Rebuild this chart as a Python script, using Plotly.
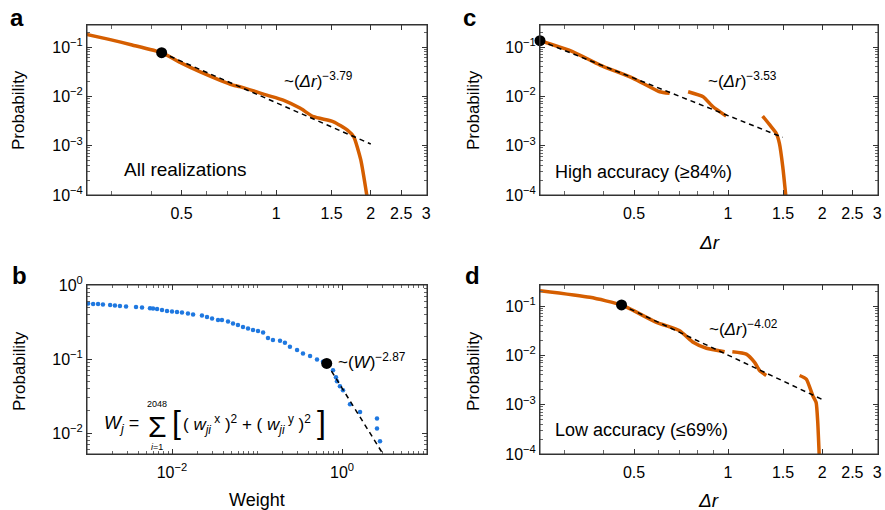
import math
import plotly.graph_objects as go

W, H = 885, 510
FONT = "Liberation Sans, Arial, sans-serif"
ORANGE = "#D55E00"
BLUE = "#1F78E0"
FRAME = "#333333"

# ---------------- data ----------------
# Panel a: all realizations
a_x = [0.248, 0.294, 0.348, 0.432, 0.5, 0.571, 0.728, 0.766, 0.934, 1.053, 1.194, 1.314, 1.523, 1.685, 1.766, 1.859, 1.953]
a_y = [0.181, 0.143, 0.110, 0.0766, 0.047, 0.0316, 0.0169, 0.0157, 0.0106, 0.0084, 0.00571, 0.00386, 0.00305, 0.00207, 0.00151, 0.000513, 0.00008]
a_fit_x = [0.432, 2.0]
a_fit_y = [0.0766, 0.00108]
a_dot = (0.432, 0.0766)

# Panel b: weight distribution
b_x = [0.00103, 0.00118, 0.00135, 0.00154, 0.00187, 0.00213, 0.00244, 0.00288, 0.00377, 0.00444,
       0.00551, 0.00598, 0.00667, 0.00763, 0.00873, 0.0100, 0.01145, 0.0131, 0.0154, 0.0177,
       0.0225, 0.0258, 0.0296, 0.0348, 0.0387, 0.0456, 0.0522, 0.0597, 0.0684, 0.0784,
       0.0897, 0.1028, 0.118, 0.1346, 0.154, 0.1866, 0.213, 0.244, 0.296, 0.3475,
       0.421, 0.508, 0.597, 0.784, 0.849, 0.873, 0.946, 1.028, 1.242, 1.63,
       2.58, 2.58, 2.80]
b_y = [0.562, 0.554, 0.554, 0.545, 0.537, 0.528, 0.520, 0.512, 0.505, 0.497,
       0.484, 0.481, 0.474, 0.459, 0.445, 0.438, 0.431, 0.425, 0.412, 0.399,
       0.387, 0.370, 0.353, 0.336, 0.336, 0.321, 0.302, 0.288, 0.271, 0.258,
       0.247, 0.239, 0.228, 0.192, 0.181, 0.177, 0.166, 0.1467, 0.1324, 0.1194,
       0.110, 0.0991, 0.092, 0.071, 0.0571, 0.0504, 0.0432, 0.0381, 0.0247, 0.0194,
       0.0158, 0.0116, 0.0078]
b_fit_x = [0.661, 2.93]
b_fit_y = [0.0875, 0.0056]
b_dot = (0.661, 0.0875)

# Panel c: high accuracy
c_x = [0.25, 0.319, 0.389, 0.497, 0.604, 0.65, None, 0.745, 0.832, 0.895, 0.986, None,
       1.29, 1.36, 1.426, 1.46, 1.497, 1.535]
c_y = [0.134, 0.080, 0.0431, 0.0232, 0.0124, 0.0115, None, 0.0124, 0.0098, 0.00615, 0.00398, None,
       0.00398, 0.00263, 0.00178, 0.00111, 0.00037, 0.00008]
c_fit_x = [0.25, 1.497]
c_fit_y = [0.134, 0.00147]
c_dot = (0.25, 0.134)

# Panel d: low accuracy
d_x = [0.25, 0.361, 0.456, 0.590, 0.70, 0.773, 0.853, 0.975, None,
       1.032, 1.144, 1.216, 1.262, 1.325, None,
       1.694, 1.78, 1.868, 1.914, 1.937, 1.96]
d_y = [0.204, 0.150, 0.105, 0.0467, 0.0316, 0.0184, 0.0139, 0.0118, None,
       0.0118, 0.0106, 0.0072, 0.0049, 0.0039, None,
       0.0039, 0.0033, 0.00151, 0.00111, 0.00044, 0.00008]
d_fit_x = [0.456, 2.01]
d_fit_y = [0.105, 0.00126]
d_dot = (0.456, 0.105)

# ticks
dr_tickvals = [0.5, 1, 1.5, 2, 2.5, 3]
dr_ticktext = ["0.5", "1", "1.5", "2", "2.5", "3"]
dr_minorvals = [0.3, 0.4, 0.6, 0.7, 0.8, 0.9]
prob_tickvals = [1e-4, 1e-3, 1e-2, 1e-1]
prob_ticktext = ["10<sup>−4</sup>", "10<sup>−3</sup>", "10<sup>−2</sup>", "10<sup>−1</sup>"]
b_ytickvals = [1e-2, 1e-1, 1]
b_yticktext = ["10<sup>−2</sup>", "10<sup>−1</sup>", "10<sup>0</sup>"]
b_xtickvals = [1e-2, 1]
b_xticktext = ["10<sup>−2</sup>", "10<sup>0</sup>"]

# ---------------- layout helpers ----------------
def px(x):
    return x / W

def py(y):
    return 1 - y / H

fig = go.Figure()

def add_panel(n, xs, ys, fx, fy, dot, mode="line"):
    xa = "x" if n == 1 else f"x{n}"
    ya = "y" if n == 1 else f"y{n}"
    if mode == "line":
        fig.add_trace(go.Scatter(x=xs, y=ys, mode="lines", line=dict(color=ORANGE, width=3.5, shape="spline", smoothing=0.5),
                                 xaxis=xa, yaxis=ya, showlegend=False, connectgaps=False))
    else:
        fig.add_trace(go.Scatter(x=xs, y=ys, mode="markers", marker=dict(color=BLUE, size=4.5),
                                 xaxis=xa, yaxis=ya, showlegend=False))
    fig.add_trace(go.Scatter(x=fx, y=fy, mode="lines", line=dict(color="black", width=1.5, dash="5px,4px"),
                             xaxis=xa, yaxis=ya, showlegend=False))
    fig.add_trace(go.Scatter(x=[dot[0]], y=[dot[1]], mode="markers", marker=dict(color="black", size=11),
                             xaxis=xa, yaxis=ya, showlegend=False, cliponaxis=False))

add_panel(1, a_x, a_y, a_fit_x, a_fit_y, a_dot)
add_panel(2, b_x, b_y, b_fit_x, b_fit_y, b_dot, mode="markers")
add_panel(3, c_x, c_y, c_fit_x, c_fit_y, c_dot)
add_panel(4, d_x, d_y, d_fit_x, d_fit_y, d_dot)

axis_common = dict(type="log", showline=True, linecolor=FRAME, linewidth=1, mirror="allticks",
                   ticks="inside", ticklen=5, tickcolor=FRAME, showgrid=False, zeroline=False,
                   automargin=False, tickfont=dict(size=16, color="black", family=FONT))
minor_common = dict(ticks="inside", ticklen=3, tickcolor="#666", dtick="D1", showgrid=False)

dr_range = [math.log10(0.25), math.log10(3.02)]
xdom_l = [px(87), px(427)]
xdom_r = [px(540), px(878)]
ydom_t = [py(195), py(25)]
ydom_b = [py(454), py(285)]

def dr_xaxis(dom, anchor):
    return dict(axis_common, domain=dom, anchor=anchor, range=dr_range, tickmode="array",
                tickvals=dr_tickvals, ticktext=dr_ticktext, ticklabelstandoff=4,
                minor=dict(ticks="inside", ticklen=4, tickcolor="#666", tickmode="array",
                           tickvals=dr_minorvals, showgrid=False))

def prob_yaxis(dom, anchor, rng):
    return dict(axis_common, domain=dom, anchor=anchor, range=rng, tickmode="array",
                tickvals=prob_tickvals, ticktext=prob_ticktext, minor=minor_common)

fig.update_layout(
    template="none",
    width=W, height=H, margin=dict(l=0, r=0, t=0, b=0, autoexpand=False),
    paper_bgcolor="white", plot_bgcolor="white",
    font=dict(family=FONT, color="black"),
    xaxis=dr_xaxis(xdom_l, "y"),
    yaxis=prob_yaxis(ydom_t, "x", [-4, -0.554]),
    xaxis3=dr_xaxis(xdom_r, "y3"),
    yaxis3=prob_yaxis(ydom_t, "x3", [-4, -0.554]),
    xaxis4=dr_xaxis(xdom_r, "y4"),
    yaxis4=prob_yaxis(ydom_b, "x4", [-4, -0.574]),
    xaxis2=dict(axis_common, domain=xdom_l, anchor="y2", range=[-3, 1], tickmode="array",
                tickvals=b_xtickvals, ticktext=b_xticktext, minor=minor_common, ticklabelstandoff=4),
    yaxis2=dict(axis_common, domain=ydom_b, anchor="x2", range=[-2.28, 0], tickmode="array",
                tickvals=b_ytickvals, ticktext=b_yticktext, minor=minor_common),
)

# panel frames
for xd, yd in [(xdom_l, ydom_t), (xdom_r, ydom_t), (xdom_l, ydom_b), (xdom_r, ydom_b)]:
    fig.add_shape(type="rect", xref="paper", yref="paper", x0=xd[0], x1=xd[1], y0=yd[0], y1=yd[1],
                  line=dict(color=FRAME, width=1), fillcolor="rgba(0,0,0,0)", layer="above")

ann = []
def text(X, Y, s, size=16, xanchor="center", yanchor="middle", angle=0, bold=False):
    if bold:
        s = f"<b>{s}</b>"
    ann.append(dict(x=px(X), y=py(Y), xref="paper", yref="paper", text=s, showarrow=False,
                    xanchor=xanchor, yanchor=yanchor, textangle=angle,
                    font=dict(size=size, family=FONT, color="black")))

# panel letters
text(17, 18, "a", 24, bold=True)
text(469, 18, "c", 24, bold=True)
text(19, 275, "b", 24, bold=True)
text(472, 275, "d", 24, bold=True)

# axis titles
text(18, 110, "Probability", 17, angle=-90)
text(473, 110, "Probability", 17, angle=-90)
text(19, 371, "Probability", 17, angle=-90)
text(473, 371, "Probability", 17, angle=-90)
text(709, 242, "<i>Δr</i>", 19)
text(708, 500, "<i>Δr</i>", 19)
text(257, 500, "Weight", 18)

# in-panel labels
text(122, 170, "All realizations", 19, xanchor="left")
text(553, 172, "High accuracy (≥84%)", 18, xanchor="left")
text(553, 430, "Low accuracy (≤69%)", 18, xanchor="left")
text(282, 80, "~(<i>Δr</i>)<sup>−3.79</sup>", 17, xanchor="left")
text(706, 80, "~(<i>Δr</i>)<sup>−3.53</sup>", 17, xanchor="left")
text(707, 328, "~(<i>Δr</i>)<sup>−4.02</sup>", 17, xanchor="left")
text(336, 361, "~(<i>W</i>)<sup>−2.87</sup>", 17, xanchor="left")

# formula in panel b
text(102, 424, "<i>W<sub>j</sub></i> =", 18, xanchor="left")
text(157, 426, "Σ", 30)
text(157, 404, "2048", 9)
text(157, 447, "<i>i</i>=1", 9)
text(176, 422, "[", 32)
text(181, 424, "( <i>w<sub>ji</sub></i><sup> x</sup> )<sup>2</sup> + ( <i>w<sub>ji</sub></i><sup> y</sup> )<sup>2</sup>", 17, xanchor="left")
text(321, 422, "]", 32)

fig.update_layout(annotations=ann)
fig.write_html("out.html", config={"displayModeBar": False},
               post_script="document.body.style.margin='0';document.body.style.overflow='hidden';")
